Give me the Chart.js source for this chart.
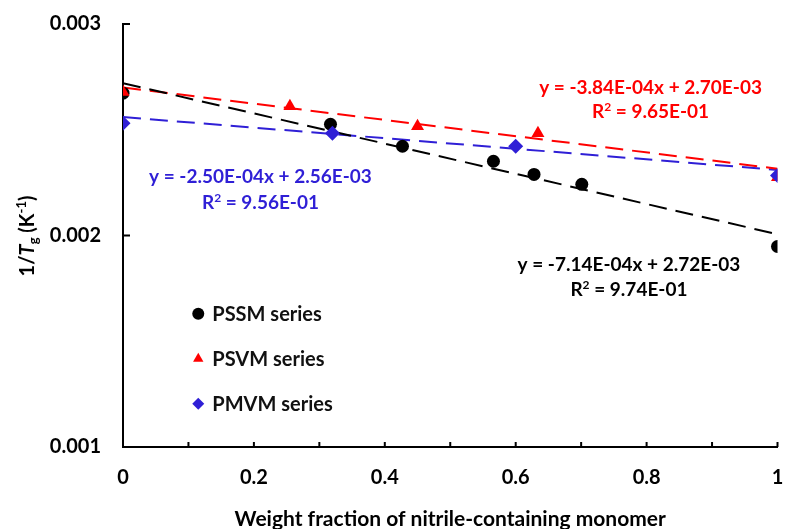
<!DOCTYPE html>
<html>
<head>
<meta charset="utf-8">
<script src="https://cdn.jsdelivr.net/npm/chart.js@4.4.0/dist/chart.umd.min.js"></script>
<style>
  html, body { margin: 0; padding: 0; background: #fff; }
  #wrap { width: 785px; height: 529px; }
</style>
</head>
<body>
<div id="wrap"><canvas id="tgChart" width="785" height="529"></canvas></div>
<script>
// 1/Tg against weight fraction of the nitrile monomer, three copolymer series
const pssmX = [0, 0.317, 0.427, 0.566, 0.628, 0.701, 1.0];
const pssmY = [0.002673, 0.002526, 0.002422, 0.002351, 0.002289, 0.002242, 0.001948];
const psvmX = [0, 0.255, 0.450, 0.634, 1.0];
const psvmY = [0.002678, 0.002611, 0.002517, 0.002483, 0.002275];
const pmvmX = [0, 0.320, 0.600, 1.0];
const pmvmY = [0.002531, 0.002483, 0.002422, 0.002284];

// linear fits: slope, intercept, R^2
const pssmFit = [-7.14e-4, 2.72e-3, 0.974];
const psvmFit = [-3.84e-4, 2.70e-3, 0.965];
const pmvmFit = [-2.50e-4, 2.56e-3, 0.956];

const seriesNames = ['PSSM series', 'PSVM series', 'PMVM series'];
const yTicks = [0.001, 0.002, 0.003];

const BLACK = '#000000';
const RED = '#ff0000';
const BLUE = '#2f1fd6';
const FONT = 'Lato, "Open Sans", sans-serif';

function toPoints(xs, ys) {
    return xs.map((x, i) => ({ x: x, y: ys[i] }));
}

function fitLine(fit) {
    return [{ x: 0, y: fit[1] }, { x: 1, y: fit[0] + fit[1] }];
}

// Excel style scientific notation, e.g. -7.14E-04
function sci(v) {
    const parts = v.toExponential(2).split('e');
    const n = parseInt(parts[1], 10);
    return parts[0].toUpperCase() + 'E' + (n < 0 ? '-' : '+') + String(Math.abs(n)).padStart(2, '0');
}

// draws a row of text pieces (sub/superscripts) centred on cx
function drawRich(ctx, segs, cx, cy) {
    let total = 0;
    segs.forEach(s => {
        ctx.font = s.font;
        s.w = ctx.measureText(s.text).width;
        total += s.w;
    });
    let x = cx - total / 2;
    ctx.textAlign = 'left';
    ctx.textBaseline = 'alphabetic';
    segs.forEach(s => {
        ctx.font = s.font;
        ctx.fillText(s.text, x, cy + (s.dy || 0));
        x += s.w;
    });
}

const scatterSet = (label, xs, ys, color, style, radius, order) => ({
    label: label,
    data: toPoints(xs, ys),
    showLine: false,
    pointStyle: style,
    pointRadius: radius,
    pointHoverRadius: radius,
    backgroundColor: color,
    borderColor: color,
    pointBorderWidth: 0,
    order: order
});

const fitSet = (fit, color) => ({
    label: '',
    isFit: true,
    data: fitLine(fit),
    showLine: true,
    pointRadius: 0,
    borderColor: color,
    borderWidth: 2,
    borderDash: [18, 9],
    fill: false,
    order: 5
});

// inward tick marks along both axes
const innerTicks = {
    id: 'innerTicks',
    afterDraw(chart) {
        const ctx = chart.ctx;
        const xs = chart.scales.x, ys = chart.scales.y;
        const area = chart.chartArea;
        ctx.save();
        ctx.strokeStyle = BLACK;
        ctx.lineWidth = 2;
        ctx.beginPath();
        xs.ticks.forEach(t => {
            const px = xs.getPixelForValue(t.value);
            ctx.moveTo(px, area.bottom);
            ctx.lineTo(px, area.bottom - 5);
        });
        ys.ticks.forEach(t => {
            const py = ys.getPixelForValue(t.value);
            ctx.moveTo(area.left, py);
            ctx.lineTo(area.left + 7, py);
        });
        ctx.stroke();
        ctx.restore();
    }
};

// legend drawn inside the plot, one marker + name per row
const insetLegend = {
    id: 'insetLegend',
    afterDraw(chart, args, opts) {
        const ctx = chart.ctx;
        const xs = chart.scales.x, ys = chart.scales.y;
        const x0 = xs.getPixelForValue(opts.x);
        let y = ys.getPixelForValue(opts.y);
        ctx.save();
        chart.data.datasets.filter(d => !d.isFit).forEach(d => {
            ctx.fillStyle = d.backgroundColor;
            ctx.strokeStyle = d.backgroundColor;
            Chart.helpers.drawPoint(ctx, {
                pointStyle: d.pointStyle, radius: opts.markerRadius, rotation: 0, borderWidth: 0
            }, x0, y);
            ctx.fillStyle = '#111';
            ctx.font = opts.font;
            ctx.textAlign = 'left';
            ctx.textBaseline = 'middle';
            ctx.fillText(d.label, x0 + 14, y + 1);
            y += opts.rowGap;
        });
        ctx.restore();
    }
};

// trendline equations and the y axis title
const fitLabels = {
    id: 'fitLabels',
    afterDraw(chart, args, opts) {
        const ctx = chart.ctx;
        const xs = chart.scales.x, ys = chart.scales.y;
        const big = 'bold 19px ' + FONT;
        const small = 'bold 12px ' + FONT;
        ctx.save();
        opts.items.forEach(it => {
            const cx = xs.getPixelForValue(it.at[0]);
            const cy = ys.getPixelForValue(it.at[1]);
            ctx.fillStyle = it.color;
            drawRich(ctx, [
                { text: 'y = ' + sci(it.fit[0]) + 'x + ' + sci(it.fit[1]), font: big }
            ], cx, cy + 7);
            drawRich(ctx, [
                { text: 'R', font: big },
                { text: '2', font: small, dy: -7 },
                { text: ' = ' + sci(it.fit[2]), font: big }
            ], cx, cy + 7 + it.gap);
        });

        // rotated y title: 1/Tg (K-1)
        const f = 'bold 20px ' + FONT;
        const fi = 'italic bold 20px ' + FONT;
        const fs = 'bold 13px ' + FONT;
        ctx.translate(opts.titleX, opts.titleY);
        ctx.rotate(-Math.PI / 2);
        ctx.fillStyle = BLACK;
        drawRich(ctx, [
            { text: '1/', font: f },
            { text: 'T', font: fi },
            { text: 'g', font: fs, dy: 4 },
            { text: ' (K', font: f },
            { text: '-1', font: fs, dy: -8 },
            { text: ')', font: f }
        ], 0, 7);
        ctx.restore();
    }
};

new Chart(document.getElementById('tgChart'), {
    type: 'scatter',
    data: {
        datasets: [
            scatterSet(seriesNames[0], pssmX, pssmY, BLACK, 'circle', 6.5, 3),
            scatterSet(seriesNames[1], psvmX, psvmY, RED, 'triangle', 7.5, 2),
            scatterSet(seriesNames[2], pmvmX, pmvmY, BLUE, 'rectRot', 7.5, 1),
            fitSet(pssmFit, BLACK),
            fitSet(psvmFit, RED),
            fitSet(pmvmFit, BLUE)
        ]
    },
    options: {
        responsive: false,
        animation: false,
        layout: { padding: { top: 24, right: 6, left: 0, bottom: 0 } },
        scales: {
            x: {
                type: 'linear',
                min: 0,
                max: 1,
                afterFit: s => {
                    s.height = 82;
                    s.paddingLeft = 0;
                    s.paddingRight = 0;
                },
                border: { color: BLACK, width: 2 },
                grid: { display: false, drawTicks: false },
                ticks: {
                    stepSize: 0.1,
                    autoSkip: false,
                    maxRotation: 0,
                    padding: 19,
                    color: BLACK,
                    font: { family: FONT, size: 20, weight: 'bold' },
                    callback: v => {
                        const k = Math.round(v * 10);
                        return k % 2 === 0 ? String(k / 10) : '';
                    }
                },
                title: {
                    display: true,
                    text: 'Weight fraction of nitrile-containing monomer',
                    color: BLACK,
                    font: { family: FONT, size: 21, weight: 'bold', lineHeight: 1 },
                    padding: { top: 0, bottom: -1 }
                }
            },
            y: {
                type: 'linear',
                min: yTicks[0],
                max: yTicks[yTicks.length - 1],
                afterFit: s => {
                    s.width = 123;
                    s.paddingTop = 0;
                    s.paddingBottom = 0;
                },
                afterBuildTicks: s => { s.ticks = yTicks.map(v => ({ value: v })); },
                border: { color: BLACK, width: 2 },
                grid: { display: false, drawTicks: false },
                ticks: {
                    padding: 22,
                    color: BLACK,
                    font: { family: FONT, size: 20, weight: 'bold' },
                    callback: v => v.toFixed(3)
                }
            }
        },
        plugins: {
            legend: { display: false },
            tooltip: { enabled: false },
            insetLegend: {
                x: 0.115, y: 0.00163, rowGap: 45,
                markerRadius: 6,
                font: 'bold 20px ' + FONT
            },
            fitLabels: {
                titleX: 27, titleY: 236,
                items: [
                    { fit: psvmFit, color: RED, at: [0.806, 0.002701], gap: 24 },
                    { fit: pmvmFit, color: BLUE, at: [0.210, 0.002280], gap: 26 },
                    { fit: pssmFit, color: BLACK, at: [0.773, 0.001867], gap: 25 }
                ]
            }
        }
    },
    plugins: [innerTicks, insetLegend, fitLabels]
});
</script>
</body>
</html>
